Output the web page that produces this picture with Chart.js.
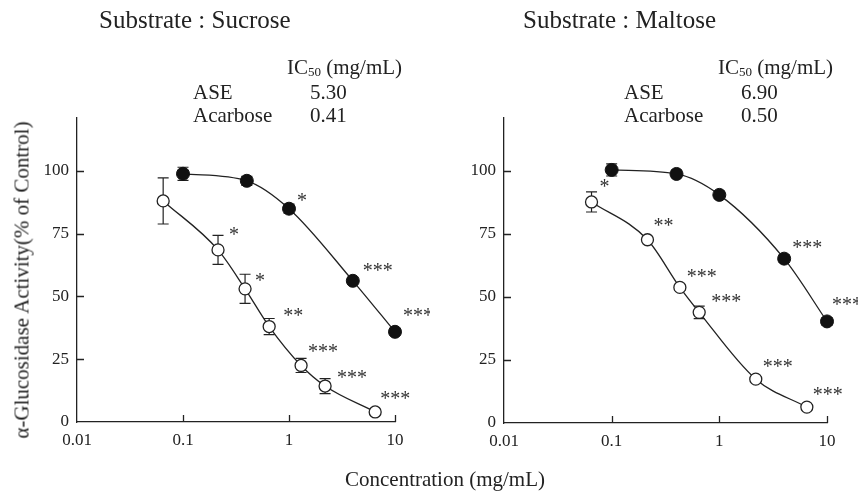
<!DOCTYPE html>
<html>
<head>
<meta charset="utf-8">
<script src="https://cdn.jsdelivr.net/npm/chart.js@4.4.1/dist/chart.umd.min.js"></script>
<style>
body { margin: 0; background: #fff; width: 858px; height: 492px; position: relative; overflow: hidden;
       font-family: "Liberation Serif", "DejaVu Serif", serif; color: #222; }
canvas { position: absolute; top: 0; }
.t { position: absolute; white-space: nowrap; line-height: 1; }
.t sub { font-size: 0.62em; vertical-align: -0.15em; line-height: 0; }
</style>
</head>
<body>
<canvas id="chart_sucrose" width="430" height="492" style="left:0"></canvas>
<canvas id="chart_maltose" width="428" height="492" style="left:430px"></canvas>

<div class="t" style="left:99px;top:7px;font-size:25px">Substrate : Sucrose</div>
<div class="t" style="left:523px;top:7px;font-size:25px">Substrate : Maltose</div>

<div class="t" style="left:287px;top:57px;font-size:21px">IC<sub>50</sub> (mg/mL)</div>
<div class="t" style="left:193px;top:82px;font-size:21px">ASE</div>
<div class="t" style="left:310px;top:82px;font-size:21px">5.30</div>
<div class="t" style="left:193px;top:105px;font-size:21px">Acarbose</div>
<div class="t" style="left:310px;top:105px;font-size:21px">0.41</div>

<div class="t" style="left:718px;top:57px;font-size:21px">IC<sub>50</sub> (mg/mL)</div>
<div class="t" style="left:624px;top:82px;font-size:21px">ASE</div>
<div class="t" style="left:741px;top:82px;font-size:21px">6.90</div>
<div class="t" style="left:624px;top:105px;font-size:21px">Acarbose</div>
<div class="t" style="left:741px;top:105px;font-size:21px">0.50</div>

<div class="t" style="left:22px;top:280px;font-size:21px;transform:translate(-50%,-50%) rotate(-90deg)">α-Glucosidase Activity(% of Control)</div>
<div class="t" style="left:445px;top:479px;font-size:21px;transform:translate(-50%,-50%)">Concentration (mg/mL)</div>

<script>
// axis ticks
const xTicks = [0.01, 0.1, 1, 10];
const yTicks = [0, 25, 50, 75, 100];

// Substrate: sucrose
const aseConcS = [0.1, 0.4, 1, 4, 10];
const aseActS  = [98.8, 96, 84.9, 56.2, 35.9];
const aseErrS  = [2.6, 1.8, 1.8, 1.2, 1.2];
const aseStarS = ['', '', '*', '***', '***'];
const acaConcS = [0.065, 0.214, 0.385, 0.65, 1.3, 2.19, 6.5];
const acaActS  = [88, 68.5, 53, 38, 22.5, 14.3, 4];
const acaErrS  = [9.2, 5.8, 5.8, 3.2, 2.8, 3, 1];
const acaStarS = ['', '*', '*', '**', '***', '***', '***'];

// Substrate: maltose
const aseConcM = [0.1, 0.4, 1, 4, 10];
const aseActM  = [100.4, 98.8, 90.5, 65.2, 40.3];
const aseErrM  = [2.4, 1.5, 1.5, 1.5, 1.5];
const aseStarM = ['', '', '', '***', '***'];
const acaConcM = [0.065, 0.215, 0.43, 0.65, 2.18, 6.5];
const acaActM  = [87.7, 72.7, 53.8, 43.9, 17.4, 6.3];
const acaErrM  = [4, 1, 1.2, 2.5, 1, 1];
const acaStarM = ['*', '**', '***', '***', '***', '***'];

// label offsets (px from the marker centre), styling only
const aseStarOffS = [[0,0],[0,0],[8,-11],[10,-13],[8,-19]];
const acaStarOffS = [[0,0],[11,-18],[10,-11],[14,-14],[7,-17],[12,-12],[5,-16]];
const aseStarOffM = [[0,0],[0,0],[0,0],[8,-14],[5,-20]];
const acaStarOffM = [[8,-18],[6,-17],[7,-14],[12,-14],[7,-16],[6,-16]];

const ink = '#222';
const fontFamily = '"Liberation Serif", "DejaVu Serif", serif';

function toPoints(xs, ys) {
    return xs.map((x, i) => ({x: x, y: ys[i]}));
}

function extrasPlugin(errs, stars, offs) {
    return {
        id: 'extras',
        beforeDatasetsDraw(chart) {
            const ctx = chart.ctx;
            const yScale = chart.scales.y;
            ctx.save();
            ctx.strokeStyle = ink;
            ctx.lineWidth = 1.2;
            errs.forEach((err, d) => {
                const meta = chart.getDatasetMeta(d);
                const values = chart.data.datasets[d].data;
                meta.data.forEach((pt, i) => {
                    const top = yScale.getPixelForValue(values[i].y + err[i]);
                    const bot = yScale.getPixelForValue(values[i].y - err[i]);
                    ctx.beginPath();
                    ctx.moveTo(pt.x, top); ctx.lineTo(pt.x, bot);
                    ctx.moveTo(pt.x - 5.5, top); ctx.lineTo(pt.x + 5.5, top);
                    ctx.moveTo(pt.x - 5.5, bot); ctx.lineTo(pt.x + 5.5, bot);
                    ctx.stroke();
                });
            });
            ctx.restore();
        },
        afterDatasetsDraw(chart) {
            const ctx = chart.ctx;
            ctx.save();
            ctx.fillStyle = '#333';
            ctx.font = '20px ' + fontFamily;
            ctx.textAlign = 'left';
            ctx.textBaseline = 'alphabetic';
            stars.forEach((s, d) => {
                const meta = chart.getDatasetMeta(d);
                meta.data.forEach((pt, i) => {
                    if (!s[i]) return;
                    ctx.fillText(s[i], pt.x + offs[d][i][0], pt.y + offs[d][i][1] + 9.5);
                });
            });
            // inward tick marks
            const xs = chart.scales.x, ys = chart.scales.y, area = chart.chartArea;
            ctx.strokeStyle = ink;
            ctx.lineWidth = 1.3;
            ctx.beginPath();
            xTicks.slice(1).forEach(v => {
                const px = Math.round(xs.getPixelForValue(v)) + 0.5;
                ctx.moveTo(px, area.bottom); ctx.lineTo(px, area.bottom - 7);
            });
            yTicks.slice(1).forEach(v => {
                const py = Math.round(ys.getPixelForValue(v)) + 0.5;
                ctx.moveTo(area.left, py); ctx.lineTo(area.left + 7, py);
            });
            ctx.stroke();
            ctx.restore();
        }
    };
}

function makePanel(canvasId, ase, aca, yWidth, xHeight, padRight) {
    const tickFont = {family: fontFamily, size: 17};
    return new Chart(document.getElementById(canvasId).getContext('2d'), {
        type: 'scatter',
        data: {
            datasets: [{
                label: 'ASE',
                data: toPoints(ase.conc, ase.act),
                showLine: true,
                cubicInterpolationMode: 'monotone',
                borderColor: ink,
                borderWidth: 1.3,
                pointRadius: 6.5,
                pointBackgroundColor: '#111',
                pointBorderColor: '#111',
                pointBorderWidth: 1,
                clip: false
            }, {
                label: 'Acarbose',
                data: toPoints(aca.conc, aca.act),
                showLine: true,
                cubicInterpolationMode: 'monotone',
                borderColor: ink,
                borderWidth: 1.3,
                pointRadius: 6,
                pointBackgroundColor: '#fff',
                pointBorderColor: ink,
                pointBorderWidth: 1.3,
                clip: false
            }]
        },
        options: {
            responsive: false,
            animation: false,
            devicePixelRatio: 1,
            layout: {padding: {top: 118, right: padRight, left: 0, bottom: 0}},
            plugins: {legend: {display: false}, tooltip: {enabled: false}},
            scales: {
                x: {
                    type: 'logarithmic',
                    min: 0.01,
                    max: 10,
                    afterBuildTicks: s => { s.ticks = xTicks.map(v => ({value: v})); },
                    afterFit: s => { s.height = xHeight; },
                    ticks: {
                        callback: v => String(v),
                        font: tickFont, color: ink, padding: 8,
                        maxRotation: 0, autoSkip: false
                    },
                    grid: {display: false, drawTicks: false},
                    border: {display: true, color: ink, width: 1.3}
                },
                y: {
                    min: 0,
                    max: 121,
                    afterBuildTicks: s => { s.ticks = yTicks.map(v => ({value: v})); },
                    afterFit: s => { s.width = yWidth; },
                    ticks: {font: tickFont, color: ink, padding: 8},
                    grid: {display: false, drawTicks: false},
                    border: {display: true, color: ink, width: 1.3}
                }
            }
        },
        plugins: [extrasPlugin([ase.err, aca.err], [ase.stars, aca.stars], [ase.offs, aca.offs])]
    });
}

makePanel('chart_sucrose',
    {conc: aseConcS, act: aseActS, err: aseErrS, stars: aseStarS, offs: aseStarOffS},
    {conc: acaConcS, act: acaActS, err: acaErrS, stars: acaStarS, offs: acaStarOffS},
    77, 70, 35);

makePanel('chart_maltose',
    {conc: aseConcM, act: aseActM, err: aseErrM, stars: aseStarM, offs: aseStarOffM},
    {conc: acaConcM, act: acaActM, err: acaErrM, stars: acaStarM, offs: acaStarOffM},
    74, 69, 31);
</script>
</body>
</html>
